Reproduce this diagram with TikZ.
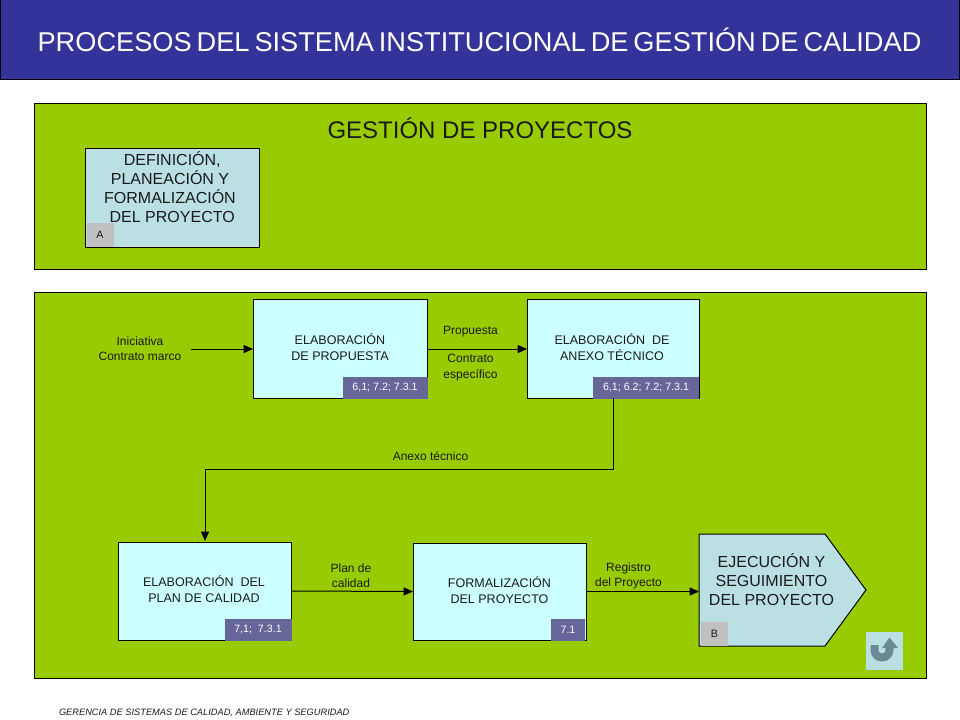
\documentclass[tikz,border=0pt]{standalone}
\usepackage{fontspec}
\setmainfont{Liberation Sans}
\newfontfamily\titlefont[WordSpace=0.65]{Liberation Sans}
\usetikzlibrary{arrows.meta,calc}
\definecolor{bandblue}{HTML}{333399}
\definecolor{panelgreen}{HTML}{99CC00}
\definecolor{palecyan}{HTML}{CCFFFF}
\definecolor{paleblue}{HTML}{BBE0E3}
\definecolor{tagblue}{HTML}{666699}
\definecolor{taggray}{HTML}{C0C0C0}
\definecolor{iconblue}{HTML}{6C8A94}
\definecolor{inktext}{HTML}{1A1A1A}
\def\px{0.75pt}
\tikzset{
  x=0.75pt,y=-0.75pt,
  every node/.style={inner sep=0pt,outer sep=0pt,align=center,text=inktext},
  panel/.style={draw=black,line width=0.75pt,fill=panelgreen},
  procbox/.style={draw=black,line width=0.75pt,fill=palecyan},
  proctext/.style={font=\fontsize{9.4}{12}\selectfont},
  refbox/.style={fill=tagblue,text=white,font=\fontsize{8}{9}\selectfont},
  lettertag/.style={fill=taggray,font=\fontsize{8}{10}\selectfont,minimum width=27*\px,minimum height=24*\px},
  flowlabel/.style={font=\fontsize{9}{11.5}\selectfont},
  flow/.style={draw=black,line width=0.75pt,-{Triangle[length=7pt,width=6pt]}},
  bigtext/.style={font=\fontsize{12}{14.2}\selectfont}
}
\begin{document}
\begin{tikzpicture}
\useasboundingbox (0,0) rectangle (960,720);
% title band
\node[draw=black,line width=0.75pt,fill=bandblue,minimum width=959*\px,minimum height=80*\px] (band) at (480,40) {};
\node[text=white,font=\fontsize{20.4}{24}\titlefont] (title) at (479.5,39.5) {PROCESOS DEL SISTEMA INSTITUCIONAL DE GESTIÓN DE CALIDAD};
% panels
\node[panel,minimum width=892*\px,minimum height=166*\px] (panelA) at (480.5,186.5) {};
\node[panel,minimum width=892*\px,minimum height=386*\px] (panelB) at (480.5,485.5) {};
\node[font=\fontsize{18}{20}\selectfont] (gestion) at (480,128.5) {GESTIÓN DE PROYECTOS};
% definition box
\node[draw=black,line width=0.75pt,fill=paleblue,minimum width=174*\px,minimum height=99*\px] (defbox) at (172.5,198) {};
\node[bigtext] (deftext) at (170,187) {\ DEFINICIÓN,\\PLANEACIÓN Y\\FORMALIZACIÓN\\ \ DEL PROYECTO};
\node[lettertag] (tagA) at (100,235) {A};
% process boxes
\node[procbox,minimum width=174*\px,minimum height=98*\px] (b1) at (340,349) {};
\node[procbox,minimum width=172*\px,minimum height=98*\px] (b2) at (613,349) {};
\node[procbox,minimum width=173*\px,minimum height=98*\px] (b3) at (204.5,591) {};
\node[procbox,minimum width=173*\px,minimum height=97*\px] (b4) at (499.5,591.5) {};
\node[proctext] (t1) at (340,347.5) {ELABORACIÓN\\DE PROPUESTA};
\node[proctext] (t2) at (612,347.5) {ELABORACIÓN\ \ DE\\ANEXO TÉCNICO};
\node[proctext] (t3) at (204,589.5) {ELABORACIÓN\ \ DEL\\PLAN DE CALIDAD};
\node[proctext] (t4) at (499.5,590.5) {FORMALIZACIÓN\\DEL PROYECTO};
% reference tags
\node[refbox,minimum width=85*\px,minimum height=22*\px] (r1) at (385,387.5) {6,1; 7.2; 7.3.1};
\node[refbox,minimum width=106*\px,minimum height=22*\px] (r2) at (646,387.5) {6,1; 6.2; 7.2; 7.3.1};
\node[refbox,minimum width=67*\px,minimum height=22*\px] (r3) at (258,629.5) {7,1;\ \ 7.3.1};
\node[refbox,minimum width=34*\px,minimum height=22*\px] (r4) at (568,629.5) {7.1};
% pentagon
\node[minimum width=167*\px,minimum height=112*\px] (ej) at (782.5,590) {};
\draw[draw=black,line width=0.75pt,fill=paleblue] (ej.north west) -- ($(ej.north east)+(-41,0)$) -- (ej.east) -- ($(ej.south east)+(-41,0)$) -- (ej.south west) -- cycle;
\node[bigtext] (ejt) at (771.5,580) {EJECUCIÓN Y\\SEGUIMIENTO\\DEL PROYECTO};
\node[lettertag] (tagB) at (714.5,634) {B};
% free ends
\coordinate (start) at (191,349);
\coordinate (elbowA) at (613,469);
\coordinate (elbowB) at (205,469);
\coordinate (r2drop) at (613,398);
\coordinate (b3top) at (205,541);
% connectors
\draw[flow] (start) -- (b1.west);
\draw[flow] (b1.east) -- (b2.west);
\draw[flow] (r2drop) -- (elbowA) -- (elbowB) -- (b3top);
\draw[flow] (b3.east) -- (b4.west);
\draw[flow] (b4.east) -- (b4.east -| ej.west);
% labels
\node[flowlabel] (l1) at (140,349) {Iniciativa\\ Contrato marco};
\node[flowlabel] (l2) at (470.5,332) {Propuesta};
\node[flowlabel] (l3) at (470.5,367.5) {Contrato\\específico};
\node[flowlabel] (l4) at (430.5,456) {Anexo técnico};
\node[flowlabel] (l5) at (351,576) {Plan de\\calidad};
\node[flowlabel] (l6) at (628.5,576) {Registro\\ del Proyecto};
% return icon
\node[fill=paleblue,minimum width=37*\px,minimum height=38*\px] (icon) at (884.5,651) {};
\draw[draw=iconblue,line width=6pt] (874.5,645) -- (874.5,650) arc[start angle=180,end angle=360,x radius=7.5*\px,y radius=7.5*\px] -- (889.5,646);
\fill[iconblue] (882,648) -- (898,648) -- (889.5,637.5) -- cycle;
% footer
\node[anchor=west,font=\fontsize{6.95}{8}\selectfont\itshape] (foot) at (59,712.5) {GERENCIA DE SISTEMAS DE CALIDAD, AMBIENTE Y SEGURIDAD};
\end{tikzpicture}
\end{document}
